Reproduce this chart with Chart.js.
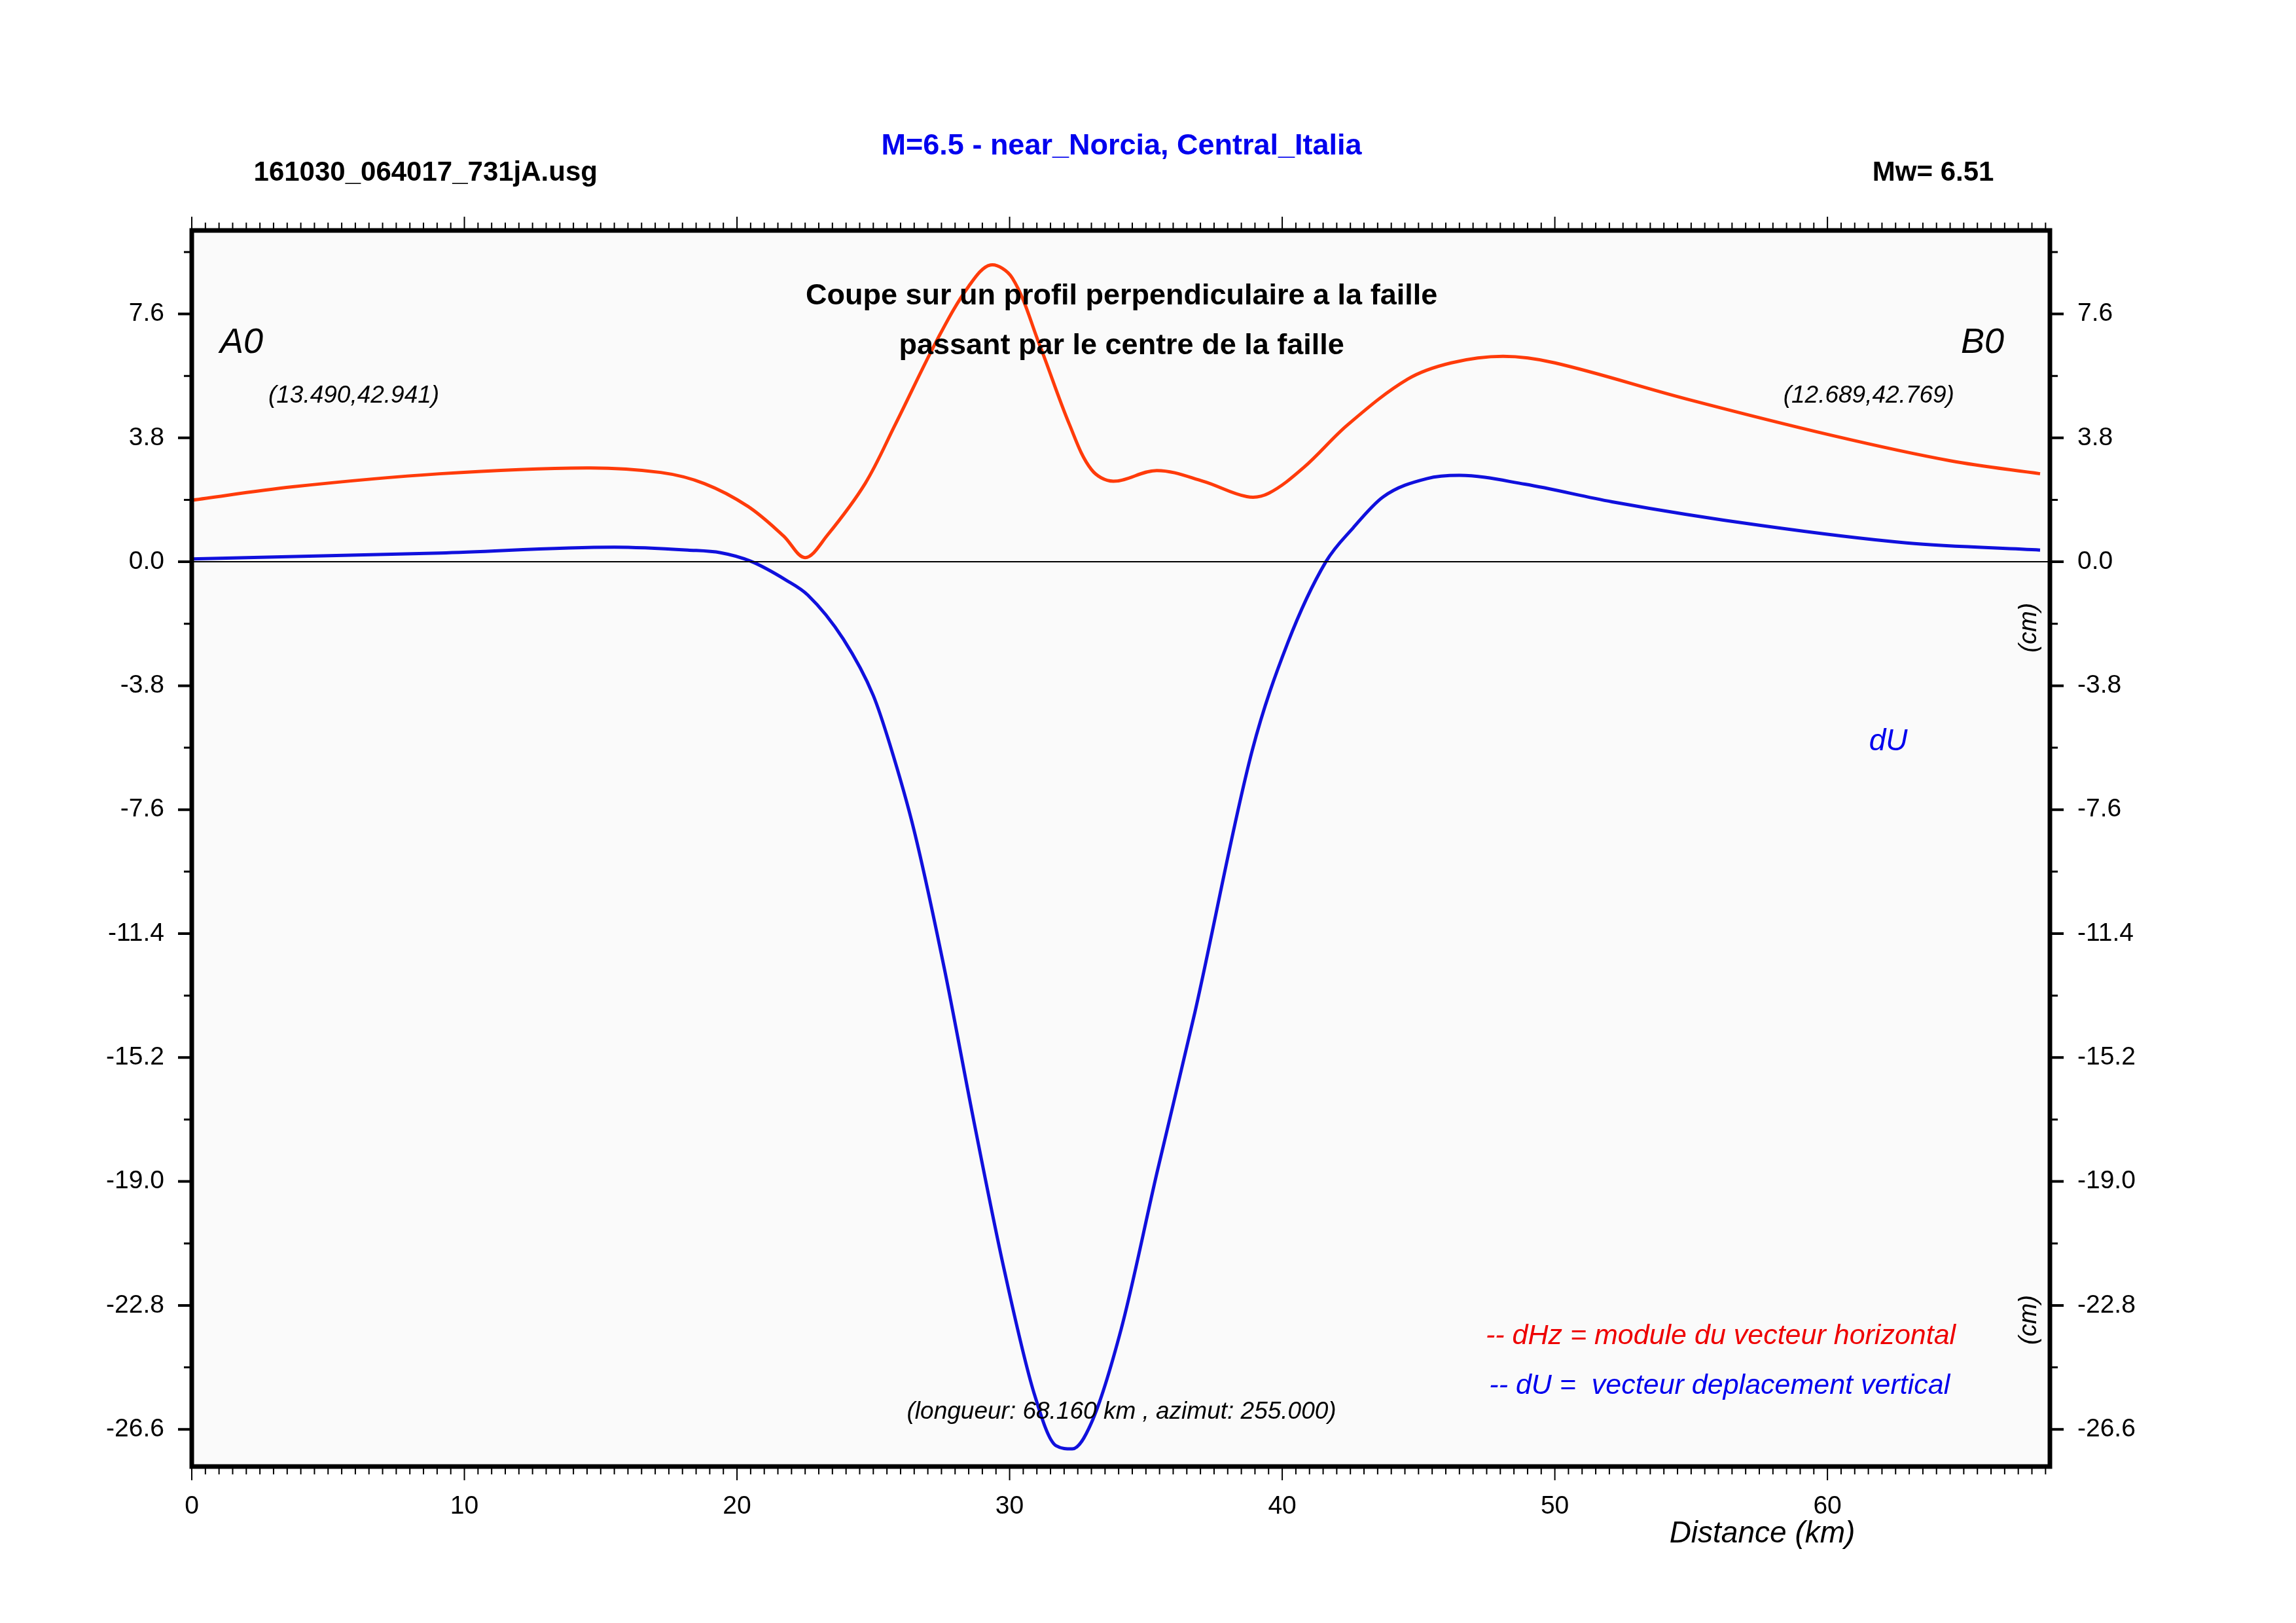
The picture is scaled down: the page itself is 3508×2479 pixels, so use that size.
<!DOCTYPE html>
<html><head><meta charset="utf-8">
<script src="https://cdn.jsdelivr.net/npm/chart.js@4"></script>
<style>html,body{margin:0;padding:0;background:#fff}#c{display:block}</style>
</head><body>
<canvas id="c" width="3508" height="2479"></canvas>
<script>
// profile data: distance (km) / displacement (cm)
var hzDist = [0, 3.7, 9.1, 14.5, 17.2, 18.8, 20.4, 21.7, 22.5, 23.3, 24.7, 25.8, 27.4, 28.5, 29.3, 30.1, 31.1, 32.2, 33.0, 33.8, 35.4, 37.1, 38.7, 39.5, 40.8, 42.4, 44.6, 46.2, 48.1, 50.0, 54.8, 60.2, 64.5, 67.8];
var hzVal  = [1.89, 2.3, 2.7, 2.88, 2.74, 2.4, 1.7, 0.8, 0.13, 0.8, 2.4, 4.2, 6.9, 8.45, 9.1, 8.7, 6.65, 4.2, 2.83, 2.47, 2.8, 2.47, 2.0, 2.1, 2.9, 4.2, 5.6, 6.1, 6.3, 6.1, 5.0, 3.87, 3.1, 2.7];
var uDist  = [0, 9.1, 15.5, 18.2, 19.4, 20.5, 21.8, 22.6, 23.9, 25.0, 25.6, 26.5, 27.6, 28.7, 29.8, 30.9, 31.7, 32.3, 33.0, 34.1, 35.4, 36.8, 38.9, 40.2, 41.6, 42.6, 43.7, 45.3, 46.5, 48.9, 52.1, 57.5, 62.9, 67.8];
var uVal   = [0.09, 0.27, 0.45, 0.36, 0.28, 0.02, -0.56, -1.02, -2.37, -4.1, -5.58, -8.25, -12.45, -17.2, -21.7, -25.5, -27.1, -27.2, -26.4, -23.5, -18.75, -13.8, -5.78, -2.49, 0, 1.04, 1.99, 2.55, 2.65, 2.38, 1.84, 1.12, 0.58, 0.36];
var yTicks = [7.6, 3.8, 0.0, -3.8, -7.6, -11.4, -15.2, -19.0, -22.8, -26.6];
var xTicks = [0, 10, 20, 30, 40, 50, 60];

function pts(xs, ys) { return xs.map(function (x, i) { return { x: x, y: ys[i] }; }); }

var F = '"Liberation Sans", Arial, sans-serif';
var S = 2.24;

var deco = {
  id: 'deco',
  beforeDraw: function (ch) {
    var c = ch.ctx, a = ch.chartArea;
    c.save();
    c.fillStyle = '#fafafa';
    c.fillRect(a.left, a.top, a.right - a.left, a.bottom - a.top);
    c.restore();
  },
  afterDatasetsDraw: function (ch) {
    var c = ch.ctx, a = ch.chartArea, xs = ch.scales.x, ys = ch.scales.y;
    c.save();
    c.strokeStyle = '#000'; c.lineWidth = 2;
    c.beginPath(); c.moveTo(a.left, ys.getPixelForValue(0)); c.lineTo(a.right, ys.getPixelForValue(0)); c.stroke();
    c.lineWidth = 7;
    c.strokeRect(a.left, a.top, a.right - a.left, a.bottom - a.top);
    c.lineWidth = 2;
    for (var v = 0; v <= 68.16; v += 0.5) {
      var px = xs.getPixelForValue(v), major = Math.abs(v % 10) < 1e-6;
      var L = major ? 18 : 9;
      c.beginPath();
      c.moveTo(px, a.bottom + 3); c.lineTo(px, a.bottom + 3 + L);
      c.moveTo(px, a.top - 3); c.lineTo(px, a.top - 3 - L);
      c.stroke();
    }
    for (var k = -14; k <= 5; k++) {
      var yv = k * 1.9;
      if (yv < ys.min || yv > ys.max) continue;
      var py = ys.getPixelForValue(yv), maj = k % 2 === 0;
      c.lineWidth = maj ? 4 : 3;
      var Ly = maj ? 18 : 9;
      c.beginPath();
      c.moveTo(a.left - 3, py); c.lineTo(a.left - 3 - Ly, py);
      c.moveTo(a.right + 3, py); c.lineTo(a.right + 3 + Ly, py);
      c.stroke();
    }
    function t(str, x, y, font, col, align) {
      c.font = font; c.fillStyle = col; c.textAlign = align || 'left'; c.textBaseline = 'middle';
      c.fillText(str, x * S, y * S);
    }
    t('161030_064017_731jA.usg', 173, 118, 'bold 42px ' + F, '#000');
    t('M=6.5 - near_Norcia, Central_Italia', 765, 100, 'bold 45px ' + F, '#0000ee', 'center');
    t('Mw= 6.51', 1360, 118, 'bold 42px ' + F, '#000', 'right');
    t('Coupe sur un profil perpendiculaire a la faille', 765, 202, 'bold 45px ' + F, '#000', 'center');
    t('passant par le centre de la faille', 765, 236, 'bold 45px ' + F, '#000', 'center');
    t('A0', 150, 234, 'italic 54px ' + F, '#000');
    t('B0', 1367, 234, 'italic 54px ' + F, '#000', 'right');
    t('(13.490,42.941)', 183, 270, 'italic 37px ' + F, '#000');
    t('(12.689,42.769)', 1333, 270, 'italic 37px ' + F, '#000', 'right');
    t('dU', 1288, 506, 'italic 46px ' + F, '#0000ee', 'center');
    t('-- dHz = module du vecteur horizontal', 1334, 911, 'italic 43px ' + F, '#ee0000', 'right');
    t('-- dU =  vecteur deplacement vertical', 1330, 945, 'italic 43px ' + F, '#0000ee', 'right');
    t('(longueur: 68.160 km , azimut: 255.000)', 765, 963, 'italic 37px ' + F, '#000', 'center');
    t('Distance (km)', 1202, 1046, 'italic 46px ' + F, '#000', 'center');
    [428, 900].forEach(function (yy) {
      c.save(); c.translate(1384 * S, yy * S); c.rotate(-Math.PI / 2);
      c.font = 'italic 38px ' + F; c.fillStyle = '#000'; c.textAlign = 'center'; c.textBaseline = 'middle';
      c.fillText('(cm)', 0, 0); c.restore();
    });
    c.restore();
  }
};

function fixTicks(list) { return function (s) { s.ticks = list.map(function (v) { return { value: v }; }); }; }

new Chart(document.getElementById('c'), {
  type: 'scatter',
  data: {
    datasets: [
      { label: 'dHz', data: pts(hzDist, hzVal), showLine: true, borderColor: '#ff3b0a', borderWidth: 5, pointRadius: 0, tension: 0.35 },
      { label: 'dU', data: pts(uDist, uVal), showLine: true, borderColor: '#1010dd', borderWidth: 5, pointRadius: 0, tension: 0.4, cubicInterpolationMode: 'monotone' }
    ]
  },
  options: {
    responsive: false, animation: false, devicePixelRatio: 1,
    layout: { padding: { top: 352, right: 0, left: 0, bottom: 0 } },
    plugins: { legend: { display: false }, tooltip: { enabled: false } },
    scales: {
      x: {
        type: 'linear', min: 0, max: 68.16,
        afterBuildTicks: fixTicks(xTicks),
        afterFit: function (s) { s.height = 2479 - 2240; },
        grid: { display: false }, border: { display: false },
        ticks: { color: '#000', font: { family: F, size: 39 }, padding: 30, maxRotation: 0 }
      },
      y: {
        min: -27.74, max: 10.16,
        afterBuildTicks: fixTicks(yTicks),
        afterFit: function (s) { s.width = 293; },
        grid: { display: false }, border: { display: false },
        ticks: { color: '#000', font: { family: F, size: 39 }, padding: 34, callback: function (v) { return v.toFixed(1); } }
      },
      y2: {
        position: 'right', min: -27.74, max: 10.16,
        afterBuildTicks: fixTicks(yTicks),
        afterFit: function (s) { s.width = 3508 - 3132; },
        grid: { display: false }, border: { display: false },
        ticks: { color: '#000', font: { family: F, size: 39 }, padding: 34, callback: function (v) { return v.toFixed(1); } }
      }
    }
  },
  plugins: [deco]
});
</script>
</body></html>
